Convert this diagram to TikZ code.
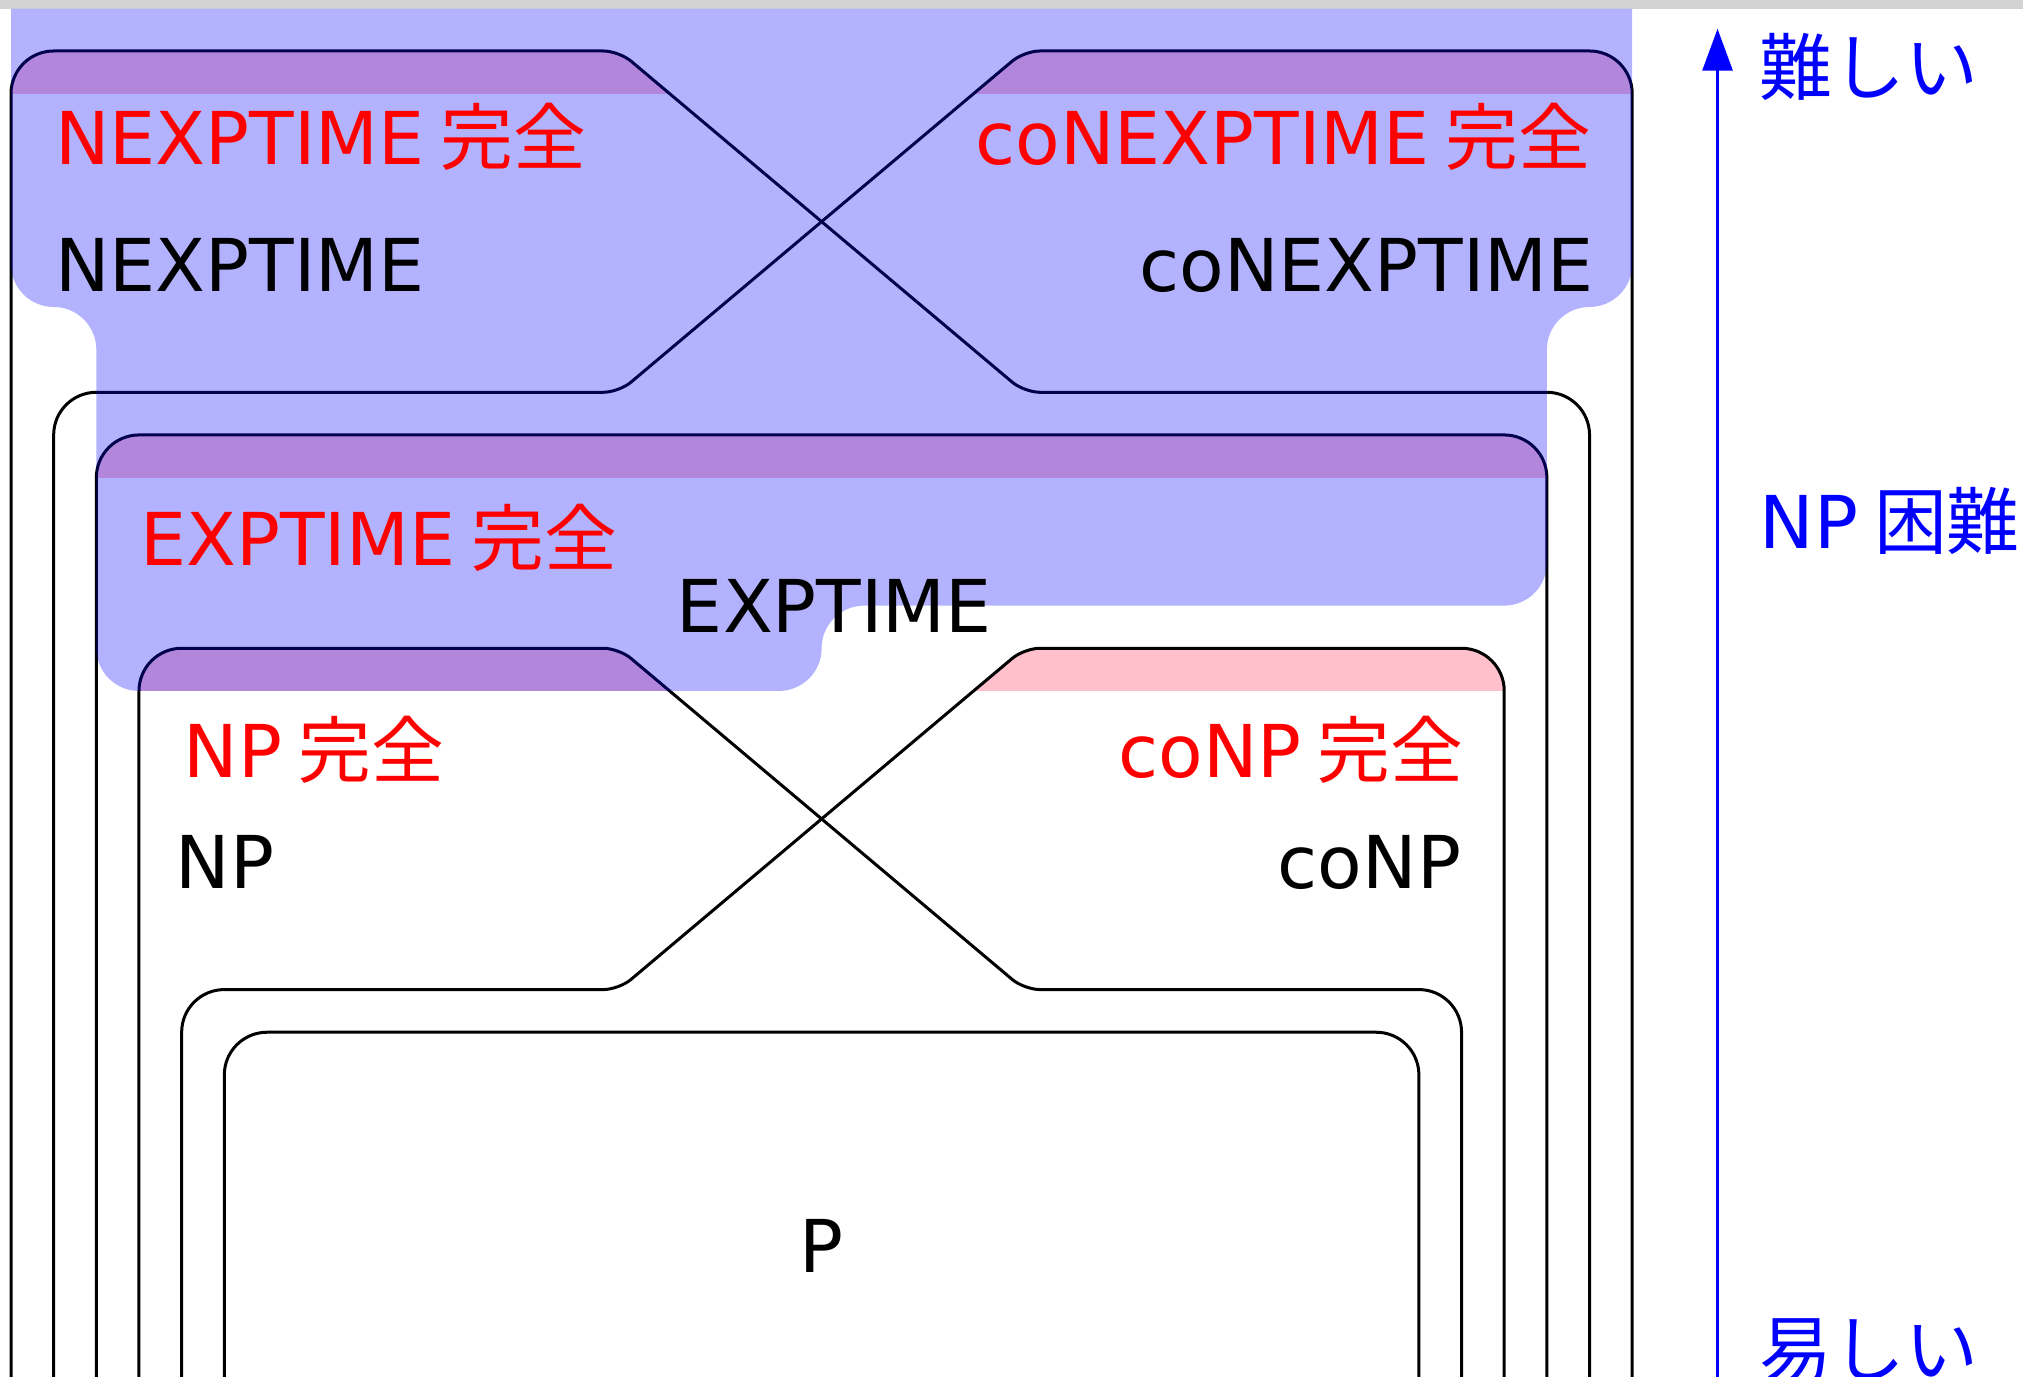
\documentclass[tikz,border=0pt]{standalone}
\usepackage{fontspec}
\setmainfont{DejaVu Sans}
\newfontfamily\jp{Noto Sans CJK JP}
\usetikzlibrary{arrows.meta}
\definecolor{bandpink}{HTML}{FFC0CB}
\definecolor{bargray}{HTML}{D3D3D3}
\newcommand\kanji[1]{\hspace{0.22em}{\jp #1}}
\tikzset{
  cls/.style={line width=1pt},
  cband/.style={fill=bandpink},
  nphard/.style={fill=blue, fill opacity=0.3},
  lab/.style={inner sep=0pt, font=\fontsize{24.3}{29}\selectfont},
  comp/.style={lab, text=red},
  axislbl/.style={lab, text=blue},
  axisline/.style={blue, line width=1.1pt}
}
\begin{document}
\begin{tikzpicture}[x=5mm, y=5mm, >={Triangle[length=4.9mm, width=3.5mm]}]
\useasboundingbox (-0.258,-31.08) rectangle (47.16,1.195);
\fill[bargray] (-0.258,0.985) rectangle (47.16,1.195);
% complete bands
\foreach \lx/\ty/\rx/\ax/\bx in {0/0/37/14.25/23.75, 38/0/1/23.75/14.25, 3/-14/34/14.25/23.75, 35/-14/4/23.75/14.25}
 {\begin{scope}
   \clip (-1,\ty-1) rectangle (40,\ty+1);
   \fill[cband, rounded corners=5mm] (\lx,-31.3) -- (\lx,\ty) [rounded corners=1.83mm] -- (\ax,\ty) -- (\bx,\ty-8) [rounded corners=5mm] -- (\rx,\ty-8) -- (\rx,-31.3) -- cycle;
  \end{scope}};
\begin{scope}
 \clip (-1,-10) rectangle (40,-8);
 \fill[cband, rounded corners=5mm] (2,-31.3) -- (2,-9) -- (36,-9) -- (36,-31.3) -- cycle;
\end{scope}
% classes
\foreach \lx/\ty/\rx/\ax/\bx in {0/0/37/14.25/23.75, 38/0/1/23.75/14.25, 3/-14/34/14.25/23.75, 35/-14/4/23.75/14.25}
 \draw[cls, rounded corners=5mm] (\lx,-31.3) -- (\lx,\ty) [rounded corners=1.83mm] -- (\ax,\ty) -- (\bx,\ty-8) [rounded corners=5mm] -- (\rx,\ty-8) -- (\rx,-31.3);
\foreach \lx/\ty/\rx in {2/-9/36, 5/-23/33}
 \draw[cls, rounded corners=5mm] (\lx,-31.3) -- (\lx,\ty) -- (\rx,\ty) -- (\rx,-31.3);
% NP hard
\fill[nphard] (0,0.985) -- (38,0.985) -- (38,-5) arc[start angle=0, end angle=-90, radius=1]
  arc[start angle=90, end angle=180, radius=1] -- (36,-12) arc[start angle=0, end angle=-90, radius=1]
  -- (20,-13) arc[start angle=90, end angle=180, radius=1] arc[start angle=0, end angle=-90, radius=1]
  -- (3,-15) arc[start angle=270, end angle=180, radius=1] -- (2,-7) arc[start angle=0, end angle=90, radius=1]
  arc[start angle=270, end angle=180, radius=1] -- cycle;

\node[comp, anchor=base west] (nexpc) at (1.02,-2.67) {NEXPTIME\kanji{完全}};
\node[lab, anchor=base west] (nexp) at (1.02,-5.64) {NEXPTIME};
\node[comp, anchor=base east] (conexpc) at (37.06,-2.67) {coNEXPTIME\kanji{完全}};
\node[lab, anchor=base east] (conexp) at (37.11,-5.64) {coNEXPTIME};
\node[comp, anchor=base west] (expc) at (3.02,-12.05) {EXPTIME\kanji{完全}};
\node[lab, anchor=base] (exp) at (19.3,-13.64) {EXPTIME};
\node[comp, anchor=base west] (npc) at (4.04,-17.02) {NP\kanji{完全}};
\node[lab, anchor=base west] (np) at (3.85,-19.63) {NP};
\node[comp, anchor=base east] (conpc) at (34.06,-17.04) {coNP\kanji{完全}};
\node[lab, anchor=base east] (conp) at (34.0,-19.62) {coNP};
\node[lab, anchor=base] (p) at (19.0,-28.64) {P};

\coordinate (easy) at (40,-31.3);
\coordinate (hard) at (40,0.52);
\draw[axisline, ->] (easy) -- (hard);
\node[axislbl, anchor=base west] (hardlbl) at (40.97,-1.01) {\jp 難しい};
\node[axislbl, anchor=base west] (nphardlbl) at (40.97,-11.67) {NP\kanji{困難}};
\node[axislbl, anchor=base west] (easylbl) at (40.97,-31.07) {\jp 易しい};
\end{tikzpicture}
\end{document}
